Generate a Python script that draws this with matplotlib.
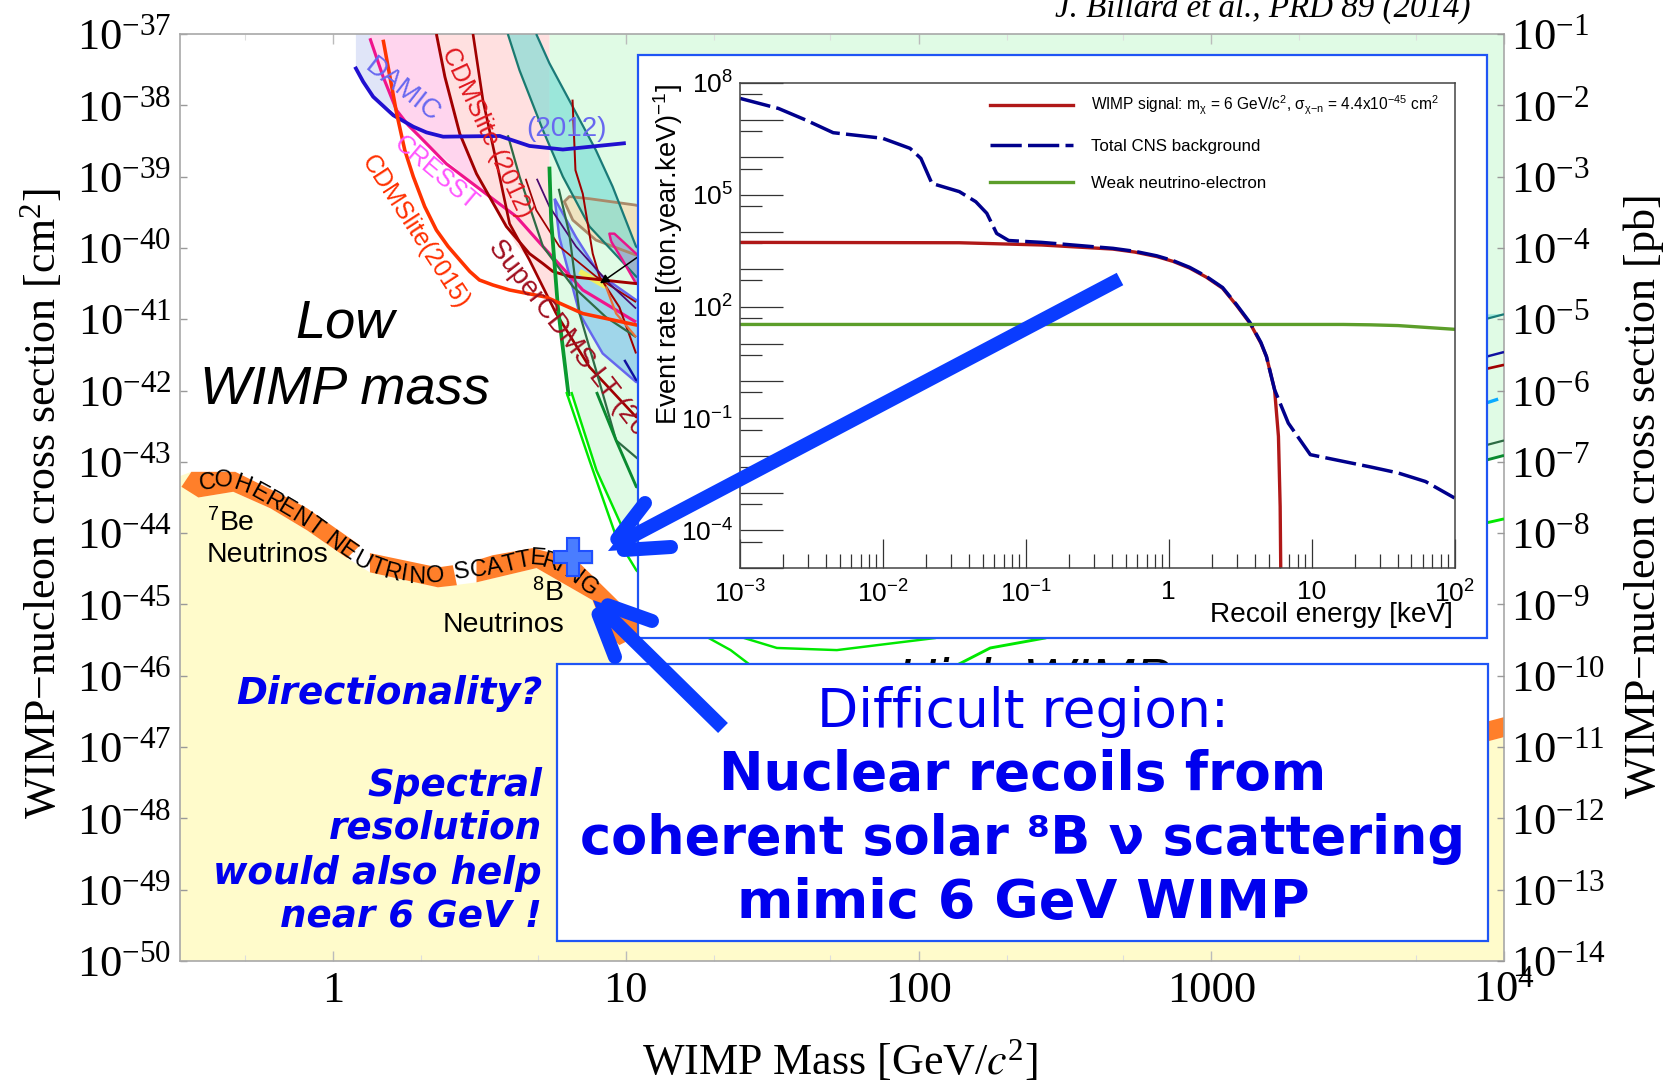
import numpy as np
import matplotlib
matplotlib.use('Agg')
import matplotlib.pyplot as plt
from matplotlib.patches import Rectangle
from matplotlib.ticker import LogLocator, NullFormatter, FixedLocator, FixedFormatter, NullLocator

plt.rcParams['mathtext.default'] = 'regular'
plt.rcParams['mathtext.fontset'] = 'custom'
plt.rcParams['mathtext.rm'] = 'Liberation Sans'
plt.rcParams['mathtext.it'] = 'Liberation Sans:italic'
plt.rcParams['mathtext.bf'] = 'Liberation Sans:bold'
plt.rcParams['mathtext.cal'] = 'Liberation Sans'
plt.rcParams['mathtext.sf'] = 'Liberation Sans'
plt.rcParams['mathtext.tt'] = 'Liberation Sans'

W, H = 1664, 1081
SERIF = 'Liberation Serif'
SANS = 'Liberation Sans'
BLUE = '#0A3CFF'
BOXBLUE = '#1F55F5'
TEXTBLUE = '#0000EE'

# ---------- main chart data: log10(mass / GeV), log10(sigma / cm2) ----------
floor_m = [-0.523, -0.484, -0.46, -0.341, -0.215, -0.089, 0.048, 0.126, 0.358, 0.49, 0.695, 0.886, 0.927, 0.978, 0.985, 2.27, 3.935, 4.0, 4.0, -0.523]
floor_s = [-43.2, -43.14, -43.5, -43.42, -43.65, -43.96, -44.35, -44.55, -44.76, -44.69, -44.49, -44.94, -45.36, -45.57, -45.9, -46.9, -46.93, -46.86, -50, -50]

band1_m = [-0.518, -0.484, -0.334, -0.157, -0.089, 0.092, 0.048, -0.089, -0.215, -0.341, -0.46]
band1_s = [-43.35, -43.14, -43.14, -43.5, -43.65, -44.17, -44.35, -43.96, -43.65, -43.42, -43.5]
band2_m = [0.126, 0.358, 0.409, 0.423, 0.358, 0.126]
band2_s = [-44.28, -44.48, -44.45, -44.73, -44.76, -44.55]
band3_m = [0.49, 0.545, 0.681, 0.75, 0.842, 0.971, 1.05, 1.05, 0.978, 0.927, 0.886, 0.695, 0.49]
band3_s = [-44.38, -44.31, -44.21, -44.28, -44.42, -44.94, -45.3, -45.42, -45.57, -45.36, -44.94, -44.49, -44.69]
band4_m = [2.27, 3.935, 4.0, 4.0, 3.935, 2.27]
band4_s = [-46.34, -46.65, -46.58, -46.86, -46.93, -46.9]

palegreen_m = [0.739, 4.0, 4.0, 3.935, 1.114, 0.988, 0.90, 0.814, 0.768, 0.745, 0.739]
palegreen_s = [-37, -37, -42.91, -42.98, -44.38, -43.92, -43.12, -42.02, -40.83, -39.61, -38.86]
palepink_m = [0.353, 0.376, 0.433, 0.49, 0.592, 0.626, 0.671, 0.762, 0.745, 0.739, 0.739]
palepink_s = [-37, -37.6, -38.4, -38.96, -39.7, -39.96, -40.17, -40.92, -39.61, -38.86, -37]
pink_m = [0.126, 0.126, 0.217, 0.296, 0.49, 0.53, 0.49, 0.433, 0.382, 0.353]
pink_s = [-37, -37.06, -38.07, -38.44, -39.14, -39.3, -38.96, -38.4, -37.6, -37]
lav_m = [0.078, 0.078, 0.137, 0.217, 0.126, 0.126]
lav_s = [-37, -37.46, -37.88, -38.11, -37.06, -37]

tealL_m = [0.597, 0.637, 0.717, 0.785, 0.876, 1.035, 1.3]
tealL_s = [-37, -37.51, -38.35, -39.0, -39.7, -40.4, -41.0]
tealR_m = [0.694, 0.739, 0.807, 0.898, 0.955, 1.035, 1.2, 2.0, 3.935, 4.0]
tealR_s = [-37, -37.41, -37.93, -38.63, -39.14, -39.98, -40.5, -40.9, -41.0, -40.93]

tan_m = [1.035, 0.876, 0.807, 0.79, 0.819, 0.898, 0.989, 1.035, 1.3]
tan_s = [-39.4, -39.31, -39.28, -39.35, -39.61, -39.89, -40.03, -40.1, -39.7]
skyU_m = [0.757, 0.83, 0.91, 1.035, 1.3]
skyU_s = [-39.31, -39.85, -40.37, -40.73, -41.0]
skyL_m = [0.757, 0.773, 0.842, 0.921, 1.035, 1.3]
skyL_s = [-39.31, -39.85, -40.92, -41.48, -41.88, -42.0]
mag_m = [0.95, 0.944, 0.961, 1.035, 1.1, 1.035, 0.989, 0.95]
mag_s = [-39.91, -39.8, -39.8, -40.08, -40.3, -40.5, -40.17, -39.91]

damic_m = [0.075, 0.103, 0.137, 0.206, 0.274, 0.319, 0.376, 0.569, 0.671, 0.785, 1.0]
damic_s = [-37.46, -37.67, -37.88, -38.14, -38.3, -38.38, -38.44, -38.43, -38.57, -38.62, -38.53]
cresst_m = [0.126, 0.171, 0.217, 0.257, 0.296, 0.387, 0.49, 0.626, 0.717, 0.853, 1.035]
cresst_s = [-37.06, -37.6, -38.07, -38.28, -38.44, -38.82, -39.14, -39.56, -39.98, -40.59, -41.04]
lite15_m = [0.171, 0.217, 0.245, 0.274, 0.313, 0.353, 0.393, 0.433, 0.467, 0.5, 0.546, 0.603, 0.728, 0.853, 1.035, 1.2]
lite15_s = [-37.08, -38.11, -38.63, -39.0, -39.42, -39.75, -39.98, -40.17, -40.33, -40.45, -40.52, -40.59, -40.69, -40.92, -41.08, -41.15]
red1_m = [0.353, 0.382, 0.433, 0.49, 0.592, 0.671, 0.717, 0.751, 0.807, 1.035, 1.2]
red1_s = [-37, -37.6, -38.4, -38.96, -39.7, -40.08, -40.22, -40.33, -40.4, -40.5, -40.55]
red2_m = [0.478, 0.512, 0.569, 0.603, 0.671, 0.762, 0.876, 1.035, 1.5, 3.935, 4.0]
red2_s = [-37, -37.93, -39.0, -39.66, -40.17, -40.92, -41.67, -42.37, -43.0, -41.7, -41.64]
redA_m = [0.818, 0.828, 0.853, 0.887, 0.91, 0.978, 1.035]
redA_s = [-37.92, -38.91, -39.24, -40.08, -40.4, -40.83, -41.48]
redB_m = [0.658, 0.694, 0.773, 0.898, 1.035]
redB_s = [-39.03, -39.47, -39.98, -40.4, -40.76]
purp_m = [0.696, 0.739, 0.83, 0.944, 1.035]
purp_s = [-39.03, -39.42, -39.98, -40.5, -40.85]
slate1_m = [0.597, 0.637, 0.717, 0.819, 0.932, 1.035]
slate1_s = [-38.42, -39.0, -39.98, -40.54, -40.97, -41.25]
slate2_m = [0.771, 0.807, 0.842, 0.898, 0.967, 1.039, 2.0, 3.935, 4.0]
slate2_s = [-39.17, -39.8, -40.92, -41.71, -42.7, -42.95, -44.3, -42.77, -42.7]
thickg_m = [0.739, 0.745, 0.768, 0.805]
thickg_s = [-38.86, -39.61, -40.83, -42.08]
dkg_m = [0.90, 0.967, 1.036, 2.0, 3.935, 4.0]
dkg_s = [-42.02, -42.7, -43.35, -44.3, -42.98, -42.91]
br1_m = [0.797, 0.876, 0.968, 1.036, 1.283, 1.358, 1.438, 1.7]
br1_s = [-42.02, -42.98, -44.06, -44.52, -45.47, -45.64, -45.89, -46.5]
br2_m = [0.814, 0.90, 0.988, 1.114, 1.404, 1.516, 1.721, 2.058, 2.5]
br2_s = [-42.02, -43.12, -43.92, -44.38, -45.47, -45.61, -45.64, -45.47, -45.0]
br3_m = [2.136, 2.245, 2.433, 3.0, 3.935, 4.0]
br3_s = [-45.84, -45.61, -45.47, -44.8, -43.86, -43.8]
navy_m = [0.995, 1.035, 1.5, 2.0, 3.935, 4.0]
navy_s = [-41.57, -41.85, -42.6, -42.7, -41.53, -41.46]
cyan_m = [2.0, 3.935, 3.98]
cyan_s = [-43.5, -42.18, -42.12]
orng_m = [0.932, 0.967, 1.035]
orng_s = [-40.54, -40.92, -41.25]
yellow_m = [0.842, 0.932]
yellow_s = [-40.33, -40.54]

x_ticks = [1, 10, 100, 1000, 10000]
x_labels = ['1', '10', '100', '1000', r'$10^{4}$']
y_exp = list(range(-50, -36))
y2_exp = list(range(-14, 0))

# ---------- inset data: log10(recoil keV), log10(rate) ----------
sig_e = [-3, -1.465, -0.89, -0.39, -0.237, -0.084, 0.031, 0.147, 0.262, 0.377, 0.473, 0.569, 0.645, 0.684, 0.741, 0.768, 0.78, 0.784]
sig_r = [3.72, 3.71, 3.65, 3.54, 3.46, 3.34, 3.21, 3.03, 2.79, 2.49, 2.04, 1.55, 1.02, 0.66, -0.23, -1.48, -3.36, -5.0]
bkg_e = [-3, -2.731, -2.54, -2.348, -2.002, -1.81, -1.734, -1.657, -1.465, -1.35, -1.273, -1.204, -1.12, -0.89, -0.39, -0.237, -0.084, 0.031, 0.147, 0.262, 0.377, 0.473, 0.569, 0.645, 0.684, 0.741, 0.837, 0.991, 1.221, 1.413, 1.605, 1.797, 2.0]
bkg_r = [7.58, 7.31, 7.0, 6.66, 6.51, 6.24, 5.97, 5.3, 5.08, 4.81, 4.5, 3.96, 3.77, 3.72, 3.56, 3.48, 3.36, 3.23, 3.05, 2.81, 2.51, 2.06, 1.57, 1.04, 0.66, -0.23, -1.125, -1.97, -2.15, -2.3, -2.46, -2.69, -3.13]
nue_e = [-3, 1.221, 1.413, 1.605, 2.0]
nue_r = [1.52, 1.52, 1.51, 1.49, 1.39]
inset_xt = [1e-3, 1e-2, 1e-1, 1, 10, 100]
inset_xl = [r'$10^{-3}$', r'$10^{-2}$', r'$10^{-1}$', '1', '10', r'$10^{2}$']
inset_yt = [1e-4, 1e-1, 1e2, 1e5, 1e8]
inset_yl = [r'$10^{-4}$', r'$10^{-1}$', r'$10^{2}$', r'$10^{5}$', r'$10^{8}$']

# curved label letters with reference positions
curve_letters = list('COHERENTNEUTRINOSCATTERING')
curve_px = [207, 223, 242, 259, 273, 286, 300, 315, 333, 347, 362, 377, 392, 404, 417, 435, 462, 478, 495, 510, 523, 537, 550, 560, 572, 588]
curve_py = [483, 481, 485, 494, 502, 509, 518, 527, 542, 552, 562, 568, 573, 575, 577, 576, 572, 570, 568, 564, 561, 559, 563, 566, 575, 587]

fig = plt.figure(figsize=(W / 100, H / 100), dpi=100, facecolor='white')


def rect(l, t, r, b):
    return [l / W, 1 - b / H, (r - l) / W, (b - t) / H]


def px_axes(z):
    a = fig.add_axes([0, 0, 1, 1], zorder=z)
    a.set_xlim(0, W)
    a.set_ylim(H, 0)
    a.axis('off')
    a.patch.set_alpha(0)
    return a


ax = fig.add_axes(rect(180, 34, 1504, 961), zorder=1)
ax.set_xscale('log')
ax.set_yscale('log')
ax.set_xlim(0.3, 1e4)
ax.set_ylim(1e-50, 1e-37)
ov_box = px_axes(2)
ov_top = px_axes(4)
T = ov_box.transData


def P(m, s):
    return 10.0 ** np.array(m), 10.0 ** np.array(s)


def fill(m, s, color, z, **kw):
    x, y = P(m, s)
    ax.fill(x, y, color=color, lw=0, zorder=z, **kw)


def line(m, s, color, lw, z=5):
    x, y = P(m, s)
    ax.plot(x, y, color=color, lw=lw * 0.8, zorder=z, solid_capstyle='butt', solid_joinstyle='round')


fill(floor_m, floor_s, '#FFFBCB', 1)
fill(band1_m, band1_s, '#FF7F2A', 1.2)
fill(band2_m, band2_s, '#FF7F2A', 1.2)
fill(band3_m, band3_s, '#FF7F2A', 1.2)
fill(band4_m, band4_s, '#FF7F2A', 1.2)
fill(palegreen_m, palegreen_s, '#E0FBE5', 1.5)
fill(palepink_m, palepink_s, '#FFE0E0', 1.6)
fill(pink_m, pink_s, '#FFD5EE', 1.7)
fill(lav_m, lav_s, '#E0E5F8', 1.7)
fill(tan_m, tan_s, '#EFE4C0', 1.8)
fill(tealL_m + tealR_m[::-1], tealL_s + tealR_s[::-1], '#6EDBD3', 1.9, alpha=0.6)
fill(skyU_m + skyL_m[::-1], skyU_s + skyL_s[::-1], '#A0D6EA', 2.0)
fill(mag_m, mag_s, '#9DB5CC', 2.1)

line(yellow_m, yellow_s, '#F0F060', 5, 2.2)
line(tan_m + tan_m[:1], tan_s + tan_s[:1], '#A98A6A', 2.5)
line(tealL_m, tealL_s, '#1A7A70', 2)
line(tealR_m, tealR_s, '#1A7A78', 2)
line(skyU_m, skyU_s, '#6666EE', 2.2)
line(skyL_m, skyL_s, '#6666EE', 2.2)
line(mag_m, mag_s, '#E8148A', 2.2)
line(damic_m, damic_s, '#2010D0', 3.4, 6)
line(cresst_m, cresst_s, '#F0148C', 2.8)
line(red1_m, red1_s, '#A00000', 2.6)
line(red2_m, red2_s, '#A00000', 2.4)
line(redA_m, redA_s, '#A00000', 1.8)
line(redB_m, redB_s, '#A00000', 1.6)
line(purp_m, purp_s, '#4A0A70', 1.6)
line(slate1_m, slate1_s, '#2F6B45', 2)
line(slate2_m, slate2_s, '#2F6B45', 2)
line(thickg_m, thickg_s, '#0A9A30', 3.4)
line(dkg_m, dkg_s, '#0A8A30', 2.6)
line(br1_m, br1_s, '#00E800', 2.2)
line(br2_m, br2_s, '#00E800', 2.2)
line(br3_m, br3_s, '#00E800', 2.6)
line(navy_m, navy_s, '#1010A0', 2.2)
line(cyan_m, cyan_s, '#0AAAFF', 3)
line(orng_m, orng_s, '#E8703A', 2)
line(lite15_m, lite15_s, '#FF3300', 3.2, 6)
ax.annotate('', xy=P(0.904, -40.52), xytext=P(1.12, -39.9),
            arrowprops=dict(arrowstyle='-|>', color='black', lw=1.1, mutation_scale=13), zorder=7)

# WIMP point
ax.plot([6.6], [4.6e-45], marker='P', ms=29, mfc='#9AA0A8', mec='none', alpha=0.35, zorder=8,
        transform=ax.transData, ls='none')
ax.plot([6.6], [4.6e-45], marker='P', ms=27, mfc='#4A7DFF', mec='#1F4FFF', mew=1.5, zorder=9, ls='none')

# main axes styling
for s in ax.spines.values():
    s.set_color('#A8A8A8')
    s.set_linewidth(1.2)
ax.xaxis.set_major_locator(FixedLocator(x_ticks))
ax.xaxis.set_major_formatter(FixedFormatter(x_labels))
ax.xaxis.set_minor_locator(LogLocator(base=10, subs=(2, 5), numticks=20))
ax.xaxis.set_minor_formatter(NullFormatter())
ax.yaxis.set_major_locator(FixedLocator([10.0 ** e for e in y_exp]))
ax.yaxis.set_major_formatter(FixedFormatter([rf'$10^{{{e}}}$' for e in y_exp]))
ax.yaxis.set_minor_locator(NullLocator())
ax.tick_params(axis='x', which='major', direction='in', length=7, width=1, color='#BBBBBB', top=True, pad=7)
ax.tick_params(axis='x', which='minor', direction='in', length=4, width=0.8, color='#DDDDDD', top=True)
ax.tick_params(axis='y', which='major', direction='in', length=5, width=1, color='#999999', pad=6)
for t in ax.get_xticklabels() + ax.get_yticklabels():
    t.set_family(SERIF)
    t.set_fontsize(32)
    t.set_math_fontfamily('stix')

ax2 = ax.twinx()
ax2.set_zorder(1.5)
ax2.patch.set_alpha(0)
ax2.set_yscale('log')
ax2.set_ylim(1e-14, 1e-1)
ax2.yaxis.set_major_locator(FixedLocator([10.0 ** e for e in y2_exp]))
ax2.yaxis.set_major_formatter(FixedFormatter([rf'$10^{{{e}}}$' for e in y2_exp]))
ax2.yaxis.set_minor_locator(NullLocator())
ax2.tick_params(axis='y', which='major', direction='in', length=5, width=1, color='#999999', pad=5)
for s in ax2.spines.values():
    s.set_visible(False)
for t in ax2.get_yticklabels():
    t.set_family(SERIF)
    t.set_fontsize(32)
    t.set_math_fontfamily('stix')


def txt(x, y, s, size, family=SANS, color='black', ha='center', va='center', rot=0, a=ax, z=10, **kw):
    t = a.text(x, y, s, fontsize=size, family=family, color=color, ha=ha, va=va, rotation=rot,
               rotation_mode='anchor', transform=ov_box.transData, zorder=z, clip_on=False, **kw)
    return t


# curve labels (below the boxes)
txt(402, 90, 'DAMIC', 19.5, color='#6868F0', rot=-38)
txt(567, 129, '(2012)', 20, color='#6868F0')
txt(436, 173, 'CRESST', 18, color='#FF55FF', rot=-40)
txt(487, 133, 'CDMSlite (2012)', 18, color='#E0181E', rot=-65)
txt(415, 232, 'CDMSlite(2015)', 18, color='#FF3000', rot=-57)
txt(493, 243, 'SuperCDMS LT (2014)', 20, color='#A01020', rot=-52, ha='left')
txt(345, 324, 'Low', 39, style='italic')
txt(345, 390, 'WIMP mass', 39, style='italic')
txt(897, 696, 'High WIMP', 39, style='italic', ha='left', va='baseline')
txt(207, 523, r'$^{7}$Be', 20.4, ha='left')
txt(207, 555, 'Neutrinos', 20.4, ha='left')
txt(564, 593, r'$^{8}$B', 20.4, ha='right')
txt(564, 625, 'Neutrinos', 20.4, ha='right')

n = len(curve_px)
for i, ch in enumerate(curve_letters):
    i0, i1 = max(i - 1, 0), min(i + 1, n - 1)
    ang = -np.degrees(np.arctan2(curve_py[i1] - curve_py[i0], curve_px[i1] - curve_px[i0]))
    txt(curve_px[i], curve_py[i], ch, 17, rot=ang, z=7)

# titles
fig.text(41 / W, 1 - 504 / H, r'WIMP$-$nucleon cross section [cm$^{2}$]', rotation=90, ha='center', va='center',
         family=SERIF, fontsize=31.7, math_fontfamily='stix')
fig.text(1643 / W, 1 - 497 / H, r'WIMP$-$nucleon cross section [pb]', rotation=90, ha='center', va='center',
         family=SERIF, fontsize=31.7, math_fontfamily='stix')
fig.text(840 / W, 1 - 1060 / H, r'WIMP Mass [GeV/$\mathit{c}^{2}$]', ha='center', va='center',
         family=SERIF, fontsize=31.7, math_fontfamily='stix')
ov_top.text(1263, 8, 'J. Billard et al., PRD 89 (2014)', family=SERIF, style='italic', fontsize=23.8,
            ha='center', va='center', clip_on=False)

# white panels
ov_box.add_patch(Rectangle((638, 55), 849, 583, fc='white', ec=BOXBLUE, lw=1.6))
ov_box.add_patch(Rectangle((557, 664), 931, 277, fc='white', ec=BOXBLUE, lw=1.6))
DV = 'DejaVu Sans'
ov_box.text(1023, 712, 'Difficult region:', family=DV, fontsize=38.5, color=TEXTBLUE, ha='center', va='center')
ov_box.text(1023, 775, 'Nuclear recoils from', family=DV, fontsize=38.3, fontweight='bold', color=TEXTBLUE, ha='center', va='center')
ov_box.text(1023, 839, 'coherent solar \u2078B \u03bd scattering', family=DV, fontsize=37.8, fontweight='bold', color=TEXTBLUE, ha='center', va='center')
ov_box.text(1023, 903, 'mimic 6 GeV WIMP', family=DV, fontsize=39, fontweight='bold', color=TEXTBLUE, ha='center', va='center')
for y, s in [(693, 'Directionality?'), (786, 'Spectral'), (828, 'resolution'), (873, 'would also help'), (917, 'near 6 GeV !')]:
    ax.text(542, y, s, family=DV, fontsize=26.8, fontweight='bold', style='italic', color=TEXTBLUE, ha='right',
            va='center', transform=ov_box.transData, zorder=10)

# inset
ins = fig.add_axes(rect(740, 82.7, 1454.5, 567.7), zorder=3)
ins.set_xscale('log')
ins.set_yscale('log')
ins.set_xlim(1e-3, 100)
ins.set_ylim(1e-5, 1e8)
l1, = ins.plot(10.0 ** np.array(sig_e), 10.0 ** np.array(sig_r), color='#B01818', lw=2.4, label=r'WIMP signal: m$_{\chi}$ = 6 GeV/c$^{2}$, $\sigma_{\chi\mathrm{-n}}$ = 4.4x10$^{-45}$ cm$^{2}$')
l2, = ins.plot(10.0 ** np.array(bkg_e), 10.0 ** np.array(bkg_r), color='#00008C', lw=2.5, ls=(0, (9, 1.8)), label='Total CNS background')
l3, = ins.plot(10.0 ** np.array(nue_e), 10.0 ** np.array(nue_r), color='#5C9E2A', lw=2.4, label='Weak neutrino-electron')
for s in ins.spines.values():
    s.set_color('#444444')
    s.set_linewidth(1.1)
ins.xaxis.set_major_locator(FixedLocator(inset_xt))
ins.xaxis.set_major_formatter(FixedFormatter(inset_xl))
ins.xaxis.set_minor_locator(LogLocator(base=10, subs=np.arange(2, 10), numticks=20))
ins.xaxis.set_minor_formatter(NullFormatter())
ins.yaxis.set_major_locator(FixedLocator([10.0 ** e for e in range(-5, 9)]))
ins.yaxis.set_major_formatter(FixedFormatter([{-4: inset_yl[0], -1: inset_yl[1], 2: inset_yl[2], 5: inset_yl[3], 8: inset_yl[4]}.get(e, '') for e in range(-5, 9)]))
ins.yaxis.set_minor_locator(FixedLocator([5 * 10.0 ** e for e in range(-5, 8)]))
ins.yaxis.set_minor_formatter(NullFormatter())
ins.tick_params(axis='x', which='major', direction='in', length=21, width=0.9, color='#333333', pad=9)
ins.tick_params(axis='x', which='minor', direction='in', length=10, width=0.9, color='#333333')
ins.tick_params(axis='y', which='major', direction='in', length=31, width=0.9, color='#333333', pad=5)
ins.tick_params(axis='y', which='minor', direction='in', length=16, width=0.9, color='#333333')
for t in ins.get_xticklabels() + ins.get_yticklabels():
    t.set_family(SANS)
    t.set_fontsize(19)
leg = ins.legend(handles=[l1, l2, l3], loc='upper left', bbox_to_anchor=(990, 94), bbox_transform=ov_box.transData,
                 frameon=False, borderpad=0, borderaxespad=0, handlelength=4.9, handletextpad=1.05, labelspacing=1.3,
                 prop={'family': SANS, 'size': 12.2})
leg.get_texts()[0].set_fontsize(11.2)
ins.text(668, 255, r'Event rate [(ton.year.keV)$^{-1}$]', family=SANS, fontsize=19.6, rotation=90, ha='center', va='center',
         transform=ov_box.transData, clip_on=False)
ins.text(1453, 615, 'Recoil energy [keV]', family=SANS, fontsize=20.2, ha='right', va='center',
         transform=ov_box.transData, clip_on=False)

# big arrows (annotations on top)
LW = 14 * 0.72
for (x0, y0, x1, y1) in [(1120, 279, 625, 540), (723, 728, 605, 612)]:
    ov_top.plot([x0, x1], [y0, y1], color=BLUE, lw=LW, solid_capstyle='butt')
tips = [(608, 551, 645, 503, 671, 547), (593, 600, 652, 621, 615, 657)]
for tx, ty, ax1, ay1, ax2_, ay2_ in tips:
    for bx, by in [(ax1, ay1), (ax2_, ay2_)]:
        ov_top.plot([tx + (bx - tx) * 0.25, bx], [ty + (by - ty) * 0.25, by], color=BLUE, lw=LW, solid_capstyle='round')
    ov_top.fill([tx, tx + (ax1 - tx) * 0.5, tx + (ax2_ - tx) * 0.5], [ty, ty + (ay1 - ty) * 0.5, ty + (ay2_ - ty) * 0.5], color=BLUE, lw=0)

fig.savefig('out.png', dpi=100)
